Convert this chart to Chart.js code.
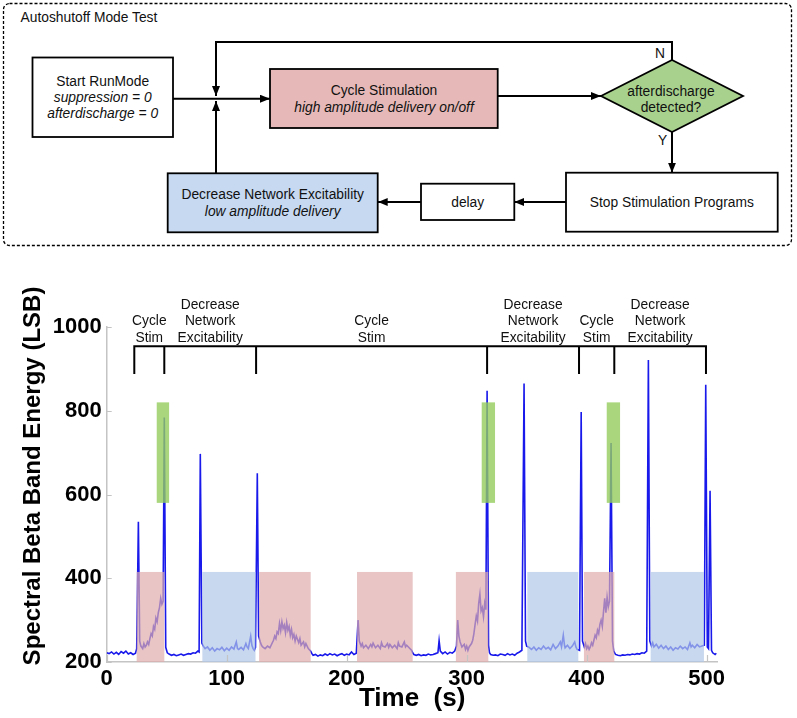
<!DOCTYPE html>
<html><head><meta charset="utf-8">
<script src="https://cdn.jsdelivr.net/npm/chart.js@4.4.1/dist/chart.umd.min.js"></script>
<style>
html,body{margin:0;padding:0;background:#fff;}
#wrap{position:relative;width:797px;height:718px;overflow:hidden;background:#fff;}
#flow{position:absolute;left:0;top:0;}
#flow text{font-family:"Liberation Sans",Arial,sans-serif;font-size:13.8px;fill:#111;}
#chartBox{position:absolute;left:0;top:250px;width:797px;height:468px;}
</style></head><body>
<div id="wrap">
<svg id="flow" width="797" height="250" xmlns="http://www.w3.org/2000/svg">
  <defs>
    <marker id="ah" markerWidth="10" markerHeight="8" refX="10" refY="4" orient="auto" markerUnits="userSpaceOnUse">
      <path d="M0,0 L10,4 L0,8 z" fill="#000"/>
    </marker>
  </defs>
  <rect x="3.5" y="3.5" width="788" height="242" rx="6" fill="none" stroke="#000" stroke-width="1.3" stroke-dasharray="3,2"/>
  <text x="20.5" y="21.5">Autoshutoff Mode Test</text>

  <rect x="32.5" y="57.5" width="140.5" height="79.5" fill="#fff" stroke="#000" stroke-width="1.8"/>
  <text x="102.7" y="85.8" text-anchor="middle">Start RunMode</text>
  <text x="102.7" y="101.5" text-anchor="middle" font-style="italic">suppression = 0</text>
  <text x="102.7" y="118.1" text-anchor="middle" font-style="italic">afterdischarge = 0</text>

  <rect x="270" y="69" width="227.7" height="59" fill="#E6B9B8" stroke="#000" stroke-width="1.8"/>
  <text x="384" y="94.8" text-anchor="middle">Cycle Stimulation</text>
  <text x="384" y="111.5" text-anchor="middle" font-style="italic">high amplitude delivery on/off</text>

  <polygon points="601,96 672,60 743,96 672,132" fill="#A9D18E" stroke="#000" stroke-width="1.8"/>
  <text x="671" y="95.5" text-anchor="middle">afterdischarge</text>
  <text x="671" y="112" text-anchor="middle">detected?</text>

  <rect x="566" y="172.7" width="211.7" height="59" fill="#fff" stroke="#000" stroke-width="1.8"/>
  <text x="671.8" y="206.5" text-anchor="middle">Stop Stimulation Programs</text>

  <rect x="421" y="183.7" width="93.3" height="36.3" fill="#fff" stroke="#000" stroke-width="1.8"/>
  <text x="467.7" y="206.5" text-anchor="middle">delay</text>

  <rect x="167.7" y="173.3" width="210" height="59" fill="#C6D9F1" stroke="#000" stroke-width="1.8"/>
  <text x="272.7" y="198.8" text-anchor="middle">Decrease Network Excitability</text>
  <text x="272.7" y="215.5" text-anchor="middle" font-style="italic">low amplitude delivery</text>

  <g stroke="#000" stroke-width="2" fill="none">
    <line x1="173" y1="98.7" x2="270" y2="98.7" marker-end="url(#ah)"/>
    <polyline points="672,60 672,42 216,42 216,96" marker-end="url(#ah)"/>
    <line x1="216" y1="173.3" x2="216" y2="101" marker-end="url(#ah)"/>
    <line x1="497.7" y1="96" x2="601" y2="96" marker-end="url(#ah)"/>
    <line x1="672" y1="132" x2="672" y2="172.7" marker-end="url(#ah)"/>
    <line x1="566" y1="202" x2="514.3" y2="202" marker-end="url(#ah)"/>
    <line x1="421" y1="202" x2="377.7" y2="202" marker-end="url(#ah)"/>
  </g>
  <text x="660" y="57.8" text-anchor="middle">N</text>
  <text x="662.7" y="144.8" text-anchor="middle">Y</text>
</svg>
<div id="chartBox"><canvas id="c" width="797" height="468"></canvas></div>
</div>
<script>
// ---- data (time in s, spectral beta band energy in LSB) ----
const tracePoints = [
 [0,222],[2,220],[4,224],[6,219],[8,223],[10,218],[12,225],[14,221],[16,226],[18,219],[20,222],[22,218],[24,221],
 [25,232],[26.4,535],[27.5,250],[28.5,238],[30,232],[31,244],[32,236],[33,240],[34,248],[35,242],[36,256],[37,268],[38,262],
 [39,285],[40,278],[41,305],[42,296],[43,318],[44,330],[45,352],[46,338],[47,345],[48,784],[49.2,235],[50.5,222],
 [52,219],[54,216],[56,218],[58,215],[60,217],[62,219],[64,216],[66,218],[68,220],[70,219],[72,222],[74,221],[76,226],[77,224],
 [78,697],[79.3,245],[80.5,238],[82,232],[84,236],[86,228],[88,234],[90,226],[92,232],[94,229],[96,235],[98,227],[100,233],
 [102,228],[104,236],[106,231],[108,248],[109,232],[110,230],[112,235],[114,229],[116,244],[117,236],[118,232],[120,262],
 [121,240],[122,232],[123,228],[124,235],[125.5,651],[126.6,262],[128,248],[129,240],[130,236],[132,232],[134,238],[136,234],
 [138,246],[139,252],[140,262],[141,256],[142,272],[143,268],[144,292],[145,275],[146,296],[147,280],[148,288],[149,270],
 [150,294],[151,276],[152,285],[153,264],[154,278],[155,258],[156,266],[157,250],[158,262],[160,246],[161,256],[162,240],
 [164,248],[165,236],[166,244],[168,232],[170,226],[171,220],[172,216],[174,218],[176,214],[178,217],[180,215],[182,219],
 [184,216],[186,220],[188,217],[190,219],[192,215],[194,218],[196,220],[198,216],[200,219],[202,217],[204,224],[206,218],[208,221],
 [209.5,300],[210.5,250],[212,238],[213,244],[214,234],[216,240],[218,232],[220,242],[221,236],[222,245],[224,234],[226,240],
 [228,232],[229,246],[230,238],[232,236],[234,244],[235,235],[236,242],[238,234],[240,240],[242,232],[243,246],[244,238],
 [246,236],[248,248],[249,236],[250,240],[252,234],[254,228],[255,222],[256,218],[258,216],[260,218],[262,215],[264,217],
 [266,216],[268,219],[270,217],[272,218],[274,220],[276,222],[277,251],[278,226],[280,220],[282,224],[284,219],[286,223],
 [288,221],[290,226],[291.5,238],[292.5,300],[293.5,262],[294.5,248],[296,236],[298,242],[299,230],[300,238],[301,228],
 [302,236],[304,244],[305,252],[306,268],[307,290],[308,310],[309,298],[310,340],[311,362],[312,322],[313,330],[314,308],
 [315,340],[316,325],[317,848],[318.2,240],[319,222],[320,218],[322,216],[324,217],[326,215],[328,219],[330,218],[332,216],
 [334,220],[336,217],[338,219],[340,216],[342,221],[344,224],[346,228],[347.8,865],[349,250],[350,238],[352,235],[354,230],
 [356,236],[358,228],[360,234],[362,230],[364,238],[366,231],[368,235],[370,229],[372,242],[374,232],[376,238],[378,248],
 [379,236],[380.5,264],[381.5,240],[382,234],[384,240],[386,232],[388,238],[390,248],[391,236],[392,230],[394,228],
 [395.4,797],[396.5,250],[398,236],[399,244],[400,232],[401,238],[402,230],[403,236],[404,246],[405,240],[406,252],[407,264],
 [408,258],[409,276],[410,268],[411,290],[412,300],[413,285],[414,320],[415,352],[416,318],[417,355],[418,332],[419,345],
 [420.3,723],[421.5,250],[422.5,226],[424,218],[426,216],[428,215],[430,217],[432,216],[434,218],[436,217],[438,219],[440,218],
 [442,220],[444,219],[446,222],[448,221],[450,226],[451.4,921],[452.6,250],[454,238],[455,246],[456,236],[458,242],[460,233],
 [462,240],[464,232],[466,238],[468,230],[470,236],[472,228],[474,234],[476,231],[478,238],[480,232],[482,236],[484,230],
 [486,246],[487,236],[488,240],[490,234],[492,242],[494,236],[496,238],[498,240],[499.2,862],[500.5,236],[501.5,232],
 [502.8,609],[504,228],[505,222],[506,220],[507,218],[508,221]
];
const pinkSpans  = [[25,48],[127,170],[208.6,255],[291,318],[397.7,423]];   // cycle stimulation on
const blueSpans  = [[79.7,124],[350.5,393],[453.3,497.7]];                  // low amplitude delivery
const greenSpans = [[41.7,52],[312.5,323.6],[416.7,427.8]];                 // afterdischarge detected
const stimRange  = [200, 415];
const detectRange = [580, 820];
const phaseBounds = [23, 48, 124.5, 317, 393.6, 423, 499.4];
const phaseLabels = [
  ["Cycle","Stim"],
  ["Decrease","Network","Excitability"],
  ["Cycle","Stim"],
  ["Decrease","Network","Excitability"],
  ["Cycle","Stim"],
  ["Decrease","Network","Excitability"]
];
const bracketLevels = [954, 890];
const xTickValues = [0, 100, 200, 300, 400, 500];
const yTickValues = [200, 400, 600, 800, 1000];
const xTitle = "Time  (s)";
const yTitle = "Spectral Beta Band Energy (LSB)";

const FONT = '"Liberation Sans", Arial, sans-serif';

const overlay = {
  id: 'overlay',
  afterDatasetsDraw(chart) {
    const {ctx, scales: {x, y}, chartArea} = chart;
    ctx.save();
    const fillSpans = (spans, lo, hi, color) => spans.forEach(([a, b]) => {
      const x0 = x.getPixelForValue(a), x1 = x.getPixelForValue(b);
      const y0 = y.getPixelForValue(hi), y1 = y.getPixelForValue(lo);
      ctx.fillStyle = color;
      ctx.fillRect(x0, y0, x1 - x0, y1 - y0);
    });
    fillSpans(pinkSpans, stimRange[0], stimRange[1], 'rgba(224,173,173,0.7)');
    fillSpans(blueSpans, stimRange[0], stimRange[1], 'rgba(176,199,231,0.7)');
    fillSpans(greenSpans, detectRange[0], detectRange[1], 'rgba(149,205,93,0.8)');

    // inward tick marks
    ctx.strokeStyle = '#c4c4c4';
    ctx.lineWidth = 1.2;
    ctx.beginPath();
    y.ticks.forEach(t => {
      const py = Math.round(y.getPixelForValue(t.value)) + 0.5;
      ctx.moveTo(chartArea.left, py); ctx.lineTo(chartArea.left + 5, py);
    });
    x.ticks.forEach(t => {
      const px = Math.round(x.getPixelForValue(t.value)) + 0.5;
      ctx.moveTo(px, chartArea.bottom); ctx.lineTo(px, chartArea.bottom - 7);
    });
    ctx.stroke();

    // phase brackets
    const yb = y.getPixelForValue(bracketLevels[0]);
    const yt = y.getPixelForValue(bracketLevels[1]);
    ctx.strokeStyle = '#000';
    ctx.lineWidth = 2;
    ctx.lineCap = 'square';
    ctx.beginPath();
    ctx.moveTo(x.getPixelForValue(phaseBounds[0]), yb);
    ctx.lineTo(x.getPixelForValue(phaseBounds[phaseBounds.length - 1]), yb);
    phaseBounds.forEach(t => {
      const px = x.getPixelForValue(t);
      ctx.moveTo(px, yb); ctx.lineTo(px, yt);
    });
    ctx.stroke();

    ctx.fillStyle = '#111';
    ctx.font = '13.8px ' + FONT;
    ctx.textAlign = 'center';
    ctx.textBaseline = 'middle';
    phaseLabels.forEach((lines, i) => {
      const cx = (x.getPixelForValue(phaseBounds[i]) + x.getPixelForValue(phaseBounds[i + 1])) / 2;
      for (let j = 0; j < lines.length; j++) {
        ctx.fillText(lines[lines.length - 1 - j], cx, yb - 8.5 - j * 16.5);
      }
    });

    // y axis title
    ctx.translate(40, 226);
    ctx.rotate(-Math.PI / 2);
    ctx.font = 'bold 24px ' + FONT;
    ctx.fillStyle = '#000';
    ctx.textAlign = 'center';
    ctx.textBaseline = 'alphabetic';
    ctx.fillText(yTitle, 0, 0);
    ctx.restore();
  }
};

new Chart(document.getElementById('c').getContext('2d'), {
  type: 'line',
  data: {
    datasets: [{
      data: tracePoints.map(([t, v]) => ({x: t, y: v})),
      borderColor: 'rgb(25,25,235)',
      borderWidth: 1.6,
      pointRadius: 0,
      tension: 0,
      fill: false
    }]
  },
  options: {
    responsive: false,
    animation: false,
    devicePixelRatio: 1,
    layout: {padding: {left: 0, right: 79.5, top: 77, bottom: 0}},
    plugins: {legend: {display: false}, tooltip: {enabled: false}},
    scales: {
      x: {
        type: 'linear', min: 0, max: 509,
        grid: {display: false, drawTicks: false},
        border: {display: true, color: '#c4c4c4', width: 1.5},
        afterBuildTicks: s => { s.ticks = xTickValues.map(v => ({value: v})); },
        ticks: {padding: 4, maxRotation: 0, autoSkip: false, color: '#000',
                callback: v => String(v),
                font: {family: FONT, size: 22, weight: 'bold'}},
        title: {display: true, text: xTitle, color: '#000',
                font: {family: FONT, size: 26, weight: 'bold'}, padding: {top: 0, bottom: 4}},
        afterFit: s => { s.height = 56; }
      },
      y: {
        type: 'linear', min: 200, max: 1000,
        grid: {display: false, drawTicks: false},
        border: {display: true, color: '#c4c4c4', width: 1.5},
        afterBuildTicks: s => { s.ticks = yTickValues.map(v => ({value: v})); },
        ticks: {padding: 5, color: '#000', autoSkip: false,
                callback: v => String(v),
                font: {family: FONT, size: 22, weight: 'bold'}},
        afterFit: s => { s.width = 106.7; }
      }
    }
  },
  plugins: [overlay]
});
</script>
</body></html>
